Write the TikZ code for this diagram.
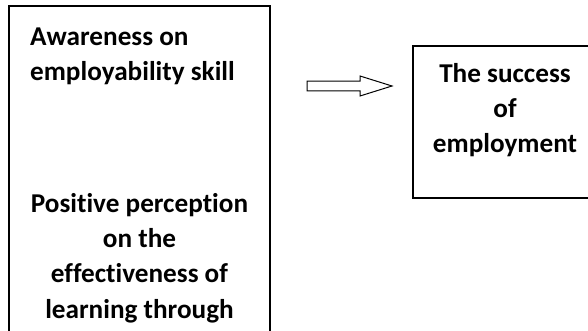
\documentclass[tikz,border=0pt]{standalone}
\usepackage{fontspec}
\setmainfont[Ligatures=NoCommon]{Carlito}
\usetikzlibrary{calc}
\begin{document}
\begin{tikzpicture}[x=1pt,y=-1pt,
  frame/.style={draw=black,line width=1.4pt},
  label/.style={inner sep=0pt,font=\fontsize{27.2}{35.3}\selectfont\bfseries},
  blockarrow/.style={draw=black,line width=1pt,fill=white,line join=miter}]
  \clip (0,0) rectangle (588,331);
  \fill[white] (0,0) rectangle (588,331);

  % left box: the two factors (text anchored at the baseline of its last line)
  \draw[frame] (9,6) coordinate (lefttl) rectangle (270,345) coordinate (leftbr);
  \node[label,anchor=base west,align=left] (aware) at (30,81)
    {Awareness on\\employability skill};
  \node[label,anchor=base,align=center] (percep) at (139.5,318)
    {Positive perception\\on the\\effectiveness of\\learning through};

  % right box: the outcome
  \draw[frame] (413,46) coordinate (righttl) rectangle (600,198) coordinate (rightbr);
  \node[label,anchor=base,align=center] (success) at (505,153)
    {The success\\of\\employment};

  % block arrow between the boxes
  \coordinate (atail) at (307,86);
  \coordinate (atip) at (392,86);
  \draw[blockarrow] ($(atail)+(0,-4.8)$) -- (360,81.2) -- (360,76) -- (atip)
    -- (360,96) -- (360,90.8) -- ($(atail)+(0,4.8)$) -- cycle;
\end{tikzpicture}
\end{document}
